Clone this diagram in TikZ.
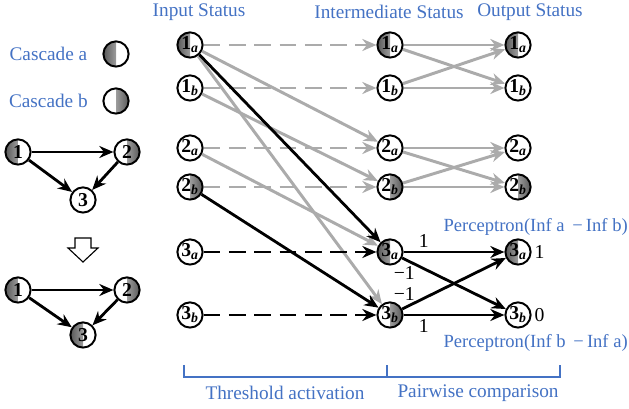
\documentclass[tikz,border=0pt]{standalone}
\usepackage{fontspec}
\setmainfont{Liberation Serif}
\usetikzlibrary{arrows.meta}

\definecolor{capblue}{RGB}{68,114,196}
\newcommand{\nd}[2]{\textbf{#1}\textsubscript{\textbf{\textit{#2}}}}

\tikzset{
  st/.style={circle,draw,line width=1.4pt,minimum size=0.63cm,inner sep=0pt,font=\fontsize{14}{14}\selectfont},
  casa/.style={path picture={\shade[left color=black!65,right color=black!12]
      (path picture bounding box.south west) rectangle (path picture bounding box.north);}},
  casb/.style={path picture={\shade[left color=black!12,right color=black!65]
      (path picture bounding box.south) rectangle (path picture bounding box.north east);}},
  lbl/.style={text=capblue,font=\fontsize{13.7}{15}\selectfont},
  wt/.style={font=\fontsize{14}{15}\selectfont,inner sep=2pt},
  gl/.style={->,line width=2.1pt,black!33},
  bl/.style={->,line width=2pt,black},
  dsh/.style={dash pattern=on 12pt off 6pt},
}

\begin{document}
\begin{tikzpicture}[>={Stealth[length=10pt,width=8.5pt]}]
      % \draw[help lines](0,0) grid (16,10);
      \useasboundingbox (0,0) rectangle (15.725,10.225);

      % legend
      \draw (1.21,8.875) node[lbl] (la) {Cascade a};
      \draw (2.9,8.875) node[st,casa] (ca) {};
      \draw (1.21,7.7) node[lbl] (lb) {Cascade b};
      \draw (2.9,7.7) node[st,casb] (cb) {};

      % small graph, before and after
      \draw (0.45,6.425) node[st,casa] (g1) {\textbf{1}};
      \draw (3.175,6.425) node[st,casb] (g2) {\textbf{2}};
      \draw (2.075,5.225) node[st] (g3) {\textbf{3}};
      \draw [bl] (g1) -- (g2);
      \draw [bl] (g1) -- (g3);
      \draw [bl] (g2) -- (g3);

      \draw[line width=0.8pt,fill=white] (1.875,4.275) -- (2.275,4.275) -- (2.275,4.025) -- (2.45,4.025)
        -- (2.075,3.675) -- (1.7,4.025) -- (1.875,4.025) -- cycle;

      \draw (0.45,2.975) node[st,casa] (h1) {\textbf{1}};
      \draw (3.175,2.975) node[st,casb] (h2) {\textbf{2}};
      \draw (2.075,1.85) node[st,casa] (h3) {\textbf{3}};
      \draw [bl] (h1) -- (h2);
      \draw [bl] (h1) -- (h3);
      \draw [bl] (h2) -- (h3);

      % column titles
      \draw (4.975,9.925) node[lbl] (tin) {Input Status};
      \draw (9.725,9.925) node[lbl] (tmid) {Intermediate Status};
      \draw (13.25,9.925) node[lbl] (tout) {Output Status};

      % input status
      \draw (4.75,9.1) node[st,casa] (i1a) {\nd{1}{a}};
      \draw (4.75,8.025) node[st] (i1b) {\nd{1}{b}};
      \draw (4.75,6.525) node[st] (i2a) {\nd{2}{a}};
      \draw (4.75,5.55) node[st,casb] (i2b) {\nd{2}{b}};
      \draw (4.75,3.925) node[st] (i3a) {\nd{3}{a}};
      \draw (4.75,2.35) node[st] (i3b) {\nd{3}{b}};

      % intermediate status
      \draw (9.75,9.1) node[st,casa] (m1a) {\nd{1}{a}};
      \draw (9.75,8.025) node[st] (m1b) {\nd{1}{b}};
      \draw (9.75,6.525) node[st] (m2a) {\nd{2}{a}};
      \draw (9.75,5.55) node[st,casb] (m2b) {\nd{2}{b}};
      \draw (9.75,3.925) node[st,casa] (m3a) {\nd{3}{a}};
      \draw (9.75,2.35) node[st,casb] (m3b) {\nd{3}{b}};

      % output status
      \draw (12.95,9.1) node[st,casa] (o1a) {\nd{1}{a}};
      \draw (12.95,8.025) node[st] (o1b) {\nd{1}{b}};
      \draw (12.95,6.525) node[st] (o2a) {\nd{2}{a}};
      \draw (12.95,5.55) node[st,casb] (o2b) {\nd{2}{b}};
      \draw (12.95,3.925) node[st,casa] (o3a) {\nd{3}{a}};
      \draw (12.95,2.35) node[st] (o3b) {\nd{3}{b}};

      % threshold activation
      \draw [gl,dsh] (i1a) -- (m1a);
      \draw [gl,dsh] (i1b) -- (m1b);
      \draw [gl,dsh] (i2a) -- (m2a);
      \draw [gl,dsh] (i2b) -- (m2b);
      \draw [gl] (i1a) -- (m2a);
      \draw [gl] (i1b) -- (m2b);
      \draw [gl] (i1a) -- (m3b);
      \draw [gl] (i2a) -- (m3a);
      \draw [bl,dsh] (i3a) -- (m3a);
      \draw [bl,dsh] (i3b) -- (m3b);
      \draw [bl] (i1a) -- (m3a);
      \draw [bl] (i2b) -- (m3b);

      % pairwise comparison
      \draw [gl] (m1a) -- (o1a);
      \draw [gl] (m1a) -- (o1b);
      \draw [gl] (m1b) -- (o1a);
      \draw [gl] (m1b) -- (o1b);
      \draw [gl] (m2a) -- (o2a);
      \draw [gl] (m2a) -- (o2b);
      \draw [gl] (m2b) -- (o2a);
      \draw [gl] (m2b) -- (o2b);
      \draw [bl] (m3a) -- (o3a) node [wt,pos=0.2,above] {1};
      \draw [bl] (m3a) -- (o3b) node [wt,pos=0.08,below left,xshift=6pt] {−1};
      \draw [bl] (m3b) -- (o3a) node [wt,pos=0.08,above left,xshift=6pt] {−1};
      \draw [bl] (m3b) -- (o3b) node [wt,pos=0.2,below] {1};

      \draw (o3a.east) node [wt,right] (v1) {1};
      \draw (o3b.east) node [wt,right] (v0) {0};
      \draw (15.7,4.55) node[lbl,anchor=east,inner sep=0pt,font=\fontsize{13.2}{15}\selectfont] (pa) {Perceptron(Inf a \,−\,Inf b)};
      \draw (15.7,1.65) node[lbl,anchor=east,inner sep=0pt,font=\fontsize{13.2}{15}\selectfont] (pb) {Perceptron(Inf b \,−\,Inf a)};

      % stages
      \draw[capblue,line width=1.6pt] (4.6,1.1) -- (4.6,0.8) -- (14.0,0.8) -- (14.0,1.1);
      \draw[capblue,line width=1.6pt] (9.675,0.8) -- (9.675,1.1);
      \draw (7.125,0.4) node[lbl] (sa) {Threshold activation};
      \draw (11.95,0.4) node[lbl] (sb) {Pairwise comparison};
\end{tikzpicture}
\end{document}
